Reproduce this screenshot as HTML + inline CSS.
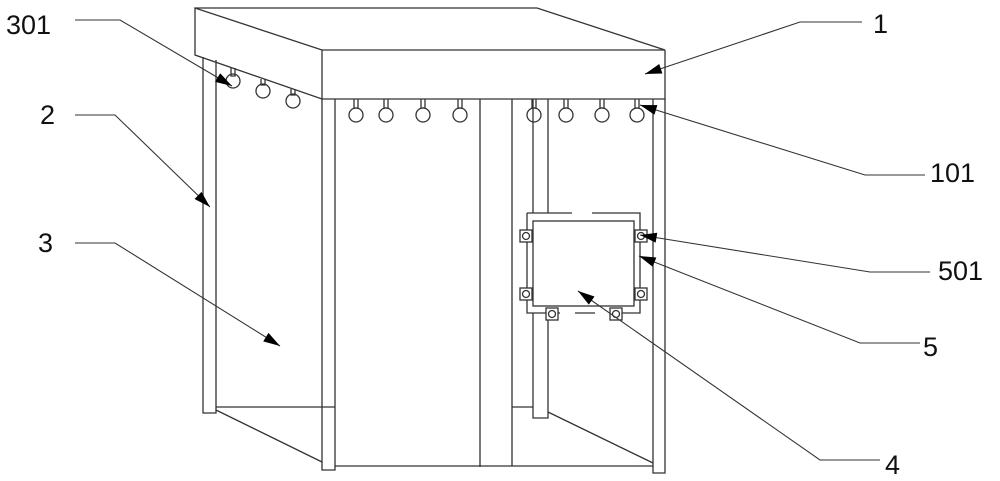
<!DOCTYPE html>
<html><head><style>body{margin:0;background:#fff}svg{display:block}text{font-family:"Liberation Sans",sans-serif;font-size:27px;fill:#111}</style></head><body>
<svg width="1000" height="481" viewBox="0 0 1000 481" fill="none" stroke="#333" stroke-width="1.3">
<defs><marker id="a" viewBox="0 0 10 6" refX="10" refY="3" markerWidth="22" markerHeight="10" markerUnits="userSpaceOnUse" orient="auto"><path d="M0,0L10,3L0,6z" fill="#000" stroke="none"/></marker></defs>
<!-- top box -->
<path d="M195,8H537L665,50H322L195,8V55L322,99H665V50M322,50V99"/>
<!-- posts -->
<path d="M203,57V413H216V60M322,99V470H335V99M480,99V467M512,99V466M653,99V473H665V99"/>
<path d="M533,99V213M548,99V213M533,313V418H548V313"/>
<path d="M216,407H335M512,407H533M216,410L322,462M548,412L653,463M335,466H653"/>
<!-- box -->
<path d="M527,213H572M592,213H640V313H615M595,313H575M560,313H527V213" />
<rect x="533" y="221" width="101" height="85"/>
<g fill="#fff">
<rect x="520" y="230" width="12" height="12"/><rect x="520" y="288" width="12" height="12"/>
<rect x="635" y="230" width="12" height="12"/><rect x="635" y="288" width="12" height="12"/>
<rect x="546" y="308" width="12" height="12"/><rect x="610" y="308" width="12" height="12"/>
</g>
<g><circle cx="526" cy="236" r="3.5"/><circle cx="526" cy="294" r="3.5"/><circle cx="641" cy="236" r="3.5"/><circle cx="641" cy="294" r="3.5"/><circle cx="552" cy="314" r="3.5"/><circle cx="616" cy="314" r="3.5"/></g>
<!-- hooks -->
<g>
<circle cx="233" cy="81" r="7"/><path d="M231,68V76H235V68"/>
<circle cx="263" cy="91" r="7"/><path d="M261,79V85H265V79"/>
<circle cx="293" cy="101" r="7"/><path d="M291,89V95H295V89"/>
<circle cx="356" cy="115" r="7"/><path d="M354,99V108H358V99"/>
<circle cx="386" cy="115" r="7"/><path d="M384,99V108H388V99"/>
<circle cx="423" cy="115" r="7"/><path d="M421,99V108H425V99"/>
<circle cx="460" cy="115" r="7"/><path d="M458,99V108H462V99"/>
<circle cx="534" cy="115" r="7"/><path d="M532,99V108H536V99"/>
<circle cx="566" cy="115" r="7"/><path d="M564,99V108H568V99"/>
<circle cx="602" cy="115" r="7"/><path d="M600,99V108H604V99"/>
<circle cx="637" cy="115" r="7"/><path d="M635,99V108H639V99"/>
</g>
<!-- leaders -->
<g stroke-width="1.1" marker-end="url(#a)">
<path d="M75,20H120L232,86"/>
<path d="M862,22H800L645,74"/>
<path d="M75,115H115L210,207"/>
<path d="M75,243H115L280,346"/>
<path d="M925,175H865L640,105"/>
<path d="M930,272H870L640,235"/>
<path d="M920,343H860L639,256"/>
<path d="M880,460H820L578,291"/>
</g>
<g stroke="none">
<text x="6" y="34">301</text><text x="873" y="33">1</text><text x="40" y="124">2</text><text x="38" y="252">3</text>
<text x="930" y="182">101</text><text x="938" y="280">501</text><text x="923" y="356">5</text><text x="885" y="474">4</text>
</g>
</svg>
</body></html>
